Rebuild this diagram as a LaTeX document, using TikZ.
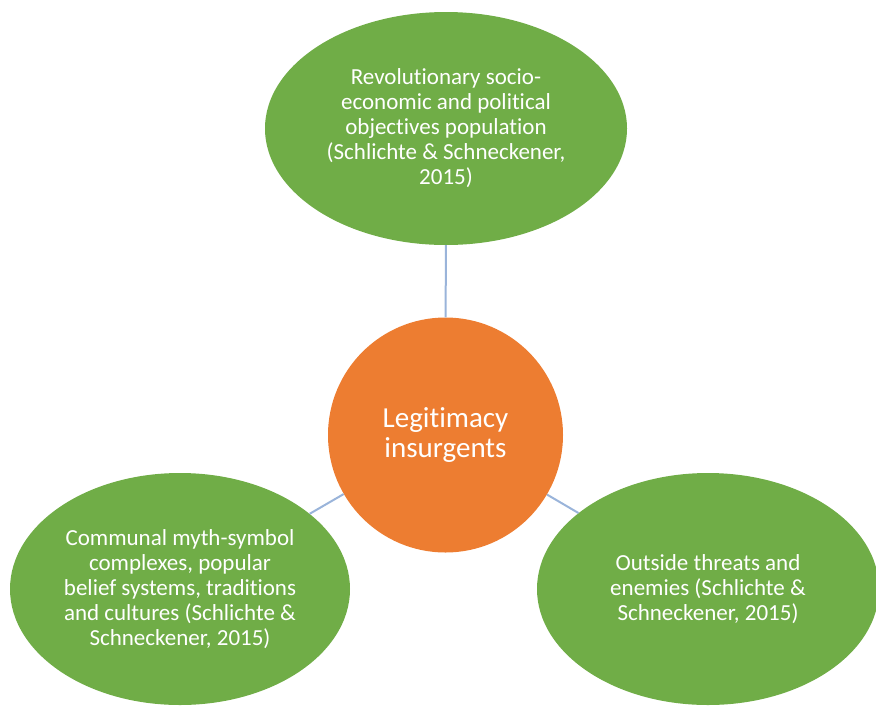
\documentclass[tikz,border=0pt]{standalone}
\usepackage{fontspec}
\setmainfont[Ligatures=NoCommon]{Carlito}
\usetikzlibrary{shapes.geometric}
\definecolor{lggreen}{HTML}{70AD47}
\definecolor{lgorange}{HTML}{ED7D31}
\definecolor{lglink}{HTML}{9AB4DA}

\begin{document}
\begin{tikzpicture}[x=1pt, y=-1pt,
    every node/.style={text=white, align=center},
    factor/.style={ellipse, fill=lggreen, inner sep=0pt, font=\fontsize{23}{25}\selectfont},
    link/.style={lglink, line width=2pt}]
                \useasboundingbox (0,0) rectangle (876,705);

                % Central concept
                \node[circle, fill=lgorange, minimum size=235pt, inner sep=0pt, font=\fontsize{29}{30}\selectfont] (legit) at (445.5,435) {Legitimacy\\insurgents};

                % Sources of legitimacy
                \node[factor, minimum width=362pt, minimum height=233pt] (goals) at (446,128.5) {Revolutionary socio-\\economic and political\\objectives population\\(Schlichte \& Schneckener,\\2015)};
                \node[factor, minimum width=340pt, minimum height=232pt] (myth) at (180,589) {Communal myth-symbol\\complexes, popular\\belief systems, traditions\\and cultures (Schlichte \&\\Schneckener, 2015)};
                \node[factor, minimum width=342pt, minimum height=232pt] (threat) at (708,589) {Outside threats and\\enemies (Schlichte \&\\Schneckener, 2015)};

                % Links to the centre
                \draw[link] (legit) -- (goals);
                \draw[link] (legit) -- (myth);
                \draw[link] (legit) -- (threat);
            \end{tikzpicture}
\end{document}
